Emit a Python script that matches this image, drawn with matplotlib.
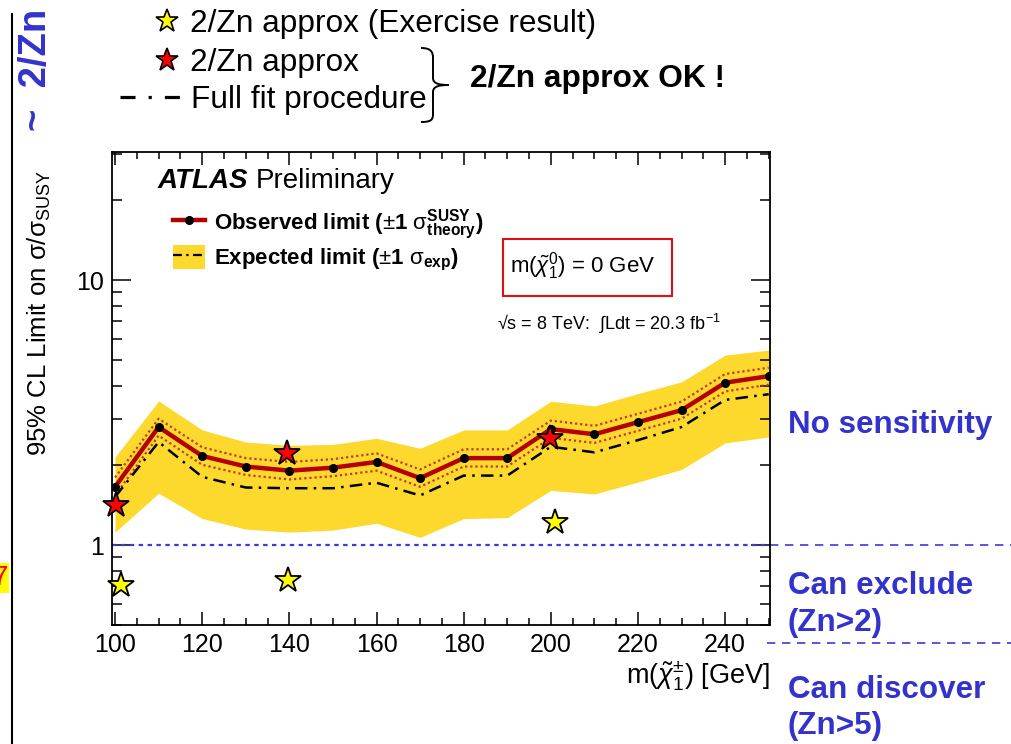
import numpy as np
import matplotlib
matplotlib.use('Agg')
import matplotlib.pyplot as plt
from matplotlib.lines import Line2D
from matplotlib.patches import Patch, Rectangle, PathPatch
from matplotlib.path import Path
from matplotlib.ticker import FixedLocator, NullFormatter, FixedFormatter
from matplotlib.font_manager import FontProperties

plt.rcParams['font.family'] = ['Liberation Sans', 'DejaVu Sans']
plt.rcParams['mathtext.fontset'] = 'custom'
plt.rcParams['mathtext.rm'] = 'Liberation Sans'
plt.rcParams['mathtext.it'] = 'Liberation Sans:italic'
plt.rcParams['mathtext.bf'] = 'Liberation Sans:bold'

# ---------------- data ----------------
mass = [100, 110, 120, 130, 140, 150, 160, 170, 180, 190, 200, 210, 220, 230, 240, 250]
observed = [1.66, 2.79, 2.17, 1.98, 1.91, 1.96, 2.06, 1.79, 2.13, 2.13, 2.74, 2.62, 2.91, 3.23, 4.10, 4.34]
theory_up = [1.80, 3.00, 2.34, 2.13, 2.06, 2.11, 2.22, 1.93, 2.30, 2.30, 2.95, 2.82, 3.13, 3.48, 4.42, 4.67]
theory_dn = [1.54, 2.59, 2.01, 1.84, 1.77, 1.82, 1.91, 1.66, 1.98, 1.98, 2.54, 2.43, 2.70, 3.00, 3.80, 4.03]
expected = [1.52, 2.45, 1.81, 1.65, 1.64, 1.64, 1.72, 1.54, 1.83, 1.83, 2.35, 2.24, 2.49, 2.79, 3.53, 3.71]
exp_up = [2.15, 3.50, 2.72, 2.45, 2.38, 2.40, 2.53, 2.32, 2.72, 2.72, 3.49, 3.35, 3.73, 4.13, 5.21, 5.44]
exp_dn = [1.12, 1.57, 1.26, 1.15, 1.12, 1.14, 1.21, 1.07, 1.26, 1.27, 1.61, 1.56, 1.73, 1.93, 2.43, 2.56]

exercise_mass = [101.3, 139.8, 201.0]
exercise_val = [0.706, 0.738, 1.225]
approx_mass = [100.2, 139.5, 199.8]
approx_val = [1.415, 2.22, 2.53]

limit_line = 1.0
discover_line = 0.427

x_major = [100, 120, 140, 160, 180, 200, 220, 240]
x_minor = list(range(100, 251, 5))
y_major = [1, 10]
y_major_labels = ['1', '10']
y_minor = [0.5, 0.6, 0.7, 0.8, 0.9, 2, 3, 4, 5, 6, 7, 8, 9, 20, 30]

# ---------------- colours ----------------
YELLOW = '#fdd92e'
RED = '#b40000'
DOT_RED = '#c03a28'
BLUE_TXT = '#3333cc'
BLUE_LINE = '#3b3bdc'

W, H = 1012, 744
fig = plt.figure(figsize=(W / 100, H / 100), dpi=100)


def fx(x):
    return x / W


def fy(y):
    return 1 - y / H


ax = fig.add_axes([fx(112), fy(625), fx(770) - fx(112), fy(152) - fy(625)])
ax.set_yscale('log')
ax.set_xlim(99.3, 250.3)
ax.set_ylim(0.5, 30.4)

ax.fill_between(mass, exp_dn, exp_up, color=YELLOW, lw=0, zorder=1)
ax.plot(mass, theory_up, color=DOT_RED, lw=1.6, ls=(0, (1, 1.3)), zorder=3)
ax.plot(mass, theory_dn, color=DOT_RED, lw=1.6, ls=(0, (1, 1.3)), zorder=3)
ax.plot(mass, expected, color='black', lw=1.8, ls=(0, (5, 2.5, 1, 2.5)), zorder=3)
ax.plot(mass, observed, color=RED, lw=3.2, zorder=4)
ax.plot(mass, observed, ls='none', marker='o', ms=5.5, mfc='black', mec='black', zorder=5)
ax.axhline(limit_line, color=BLUE_LINE, lw=1.6, ls=(0, (2, 2)), zorder=2)

ax.plot(exercise_mass, exercise_val, ls='none', marker='*', ms=19, mfc='#ffff00',
        mec='black', mew=1.3, zorder=6, clip_on=False)
ax.plot(approx_mass, approx_val, ls='none', marker='*', ms=19, mfc='#ff0000',
        mec='black', mew=1.3, zorder=6, clip_on=False)

# dashed separators to the right of the axes
trans = ax.get_yaxis_transform()
ax.plot([1.0, 1.37], [limit_line, limit_line], transform=trans, color=BLUE_LINE,
        lw=1.2, ls=(0, (5, 4)), clip_on=False)
ax.plot([0.995, 1.37], [discover_line, discover_line], transform=trans, color=BLUE_LINE,
        lw=1.2, ls=(0, (5, 4)), clip_on=False)

# ticks
ax.xaxis.set_major_locator(FixedLocator(x_major))
ax.xaxis.set_minor_locator(FixedLocator(x_minor))
ax.yaxis.set_major_locator(FixedLocator(y_major))
ax.yaxis.set_major_formatter(FixedFormatter(y_major_labels))
ax.yaxis.set_minor_locator(FixedLocator(y_minor))
ax.yaxis.set_minor_formatter(NullFormatter())
ax.tick_params(which='both', direction='in', top=True, right=True, width=1.1,
               labelsize=18, colors='black')
ax.tick_params(axis='x', which='major', length=9.5, pad=6)
ax.tick_params(axis='x', which='minor', length=5)
ax.tick_params(axis='y', which='major', length=14, pad=6)
ax.tick_params(axis='y', which='minor', length=7.5)
for s in ax.spines.values():
    s.set_linewidth(1.3)

ax.set_xlabel(r'm($\tilde{\chi}^{\pm}_{1}$) [GeV]', fontsize=19.5, loc='right', labelpad=1)
ax.set_ylabel(r'95% CL Limit on $\mathrm{\sigma}/\mathrm{\sigma}_{\rm SUSY}$', fontsize=18.5)
ax.yaxis.label.set_rotation_mode('default')
ax.yaxis.label.set_verticalalignment('center')
ax.yaxis.label.set_horizontalalignment('center')
ax.yaxis.set_label_coords((39 - 112) / 658, (625 - 313) / 473)

# ATLAS label and legend
ax.text((158 - 112) / 658, 1 - (188 - 152) / 473, 'ATLAS', transform=ax.transAxes,
        fontsize=20, fontweight='bold', fontstyle='italic', va='baseline', ha='left')
ax.text((256 - 112) / 658, 1 - (188 - 152) / 473, 'Preliminary', transform=ax.transAxes,
        fontsize=20, va='baseline', ha='left')

h_obs = Line2D([], [], color=RED, lw=3.2, marker='o', ms=5.5, mfc='black', mec='black')
h_exp = (Patch(facecolor=YELLOW, edgecolor='none'),
         Line2D([], [], color='black', lw=1.6, ls=(0, (4, 2, 1, 2))))
leg = ax.legend([h_obs, h_exp],
                [r'Observed limit ($\pm$1 $\mathrm{\sigma}^{\mathbf{SUSY}}_{\mathbf{theory}}$)',
                 r'Expected limit ($\pm$1 $\mathrm{\sigma}_{\mathbf{exp}}$)'],
                loc='upper left', bbox_to_anchor=((173 - 112) / 658, 1 - (208 - 152) / 473),
                frameon=False, prop=FontProperties(family='Liberation Sans', weight='bold', size=16),
                handlelength=1.45, handleheight=1.25, handletextpad=0.4, labelspacing=0.12,
                borderpad=0, borderaxespad=0)

# neutralino box
fig.add_artist(Rectangle((fx(503), fy(296)), fx(672) - fx(503), fy(239) - fy(296),
                         transform=fig.transFigure, fill=False, edgecolor='#e01010', lw=1.5))
fig.text(fx(510), fy(273), r'm($\tilde{\chi}^{0}_{1}$) = 0 GeV', fontsize=16, va='baseline', ha='left')
fig.text(fx(497), fy(330), '\u221as = 8 TeV:  $\\int$Ldt = 20.3 fb$^{-1}$', fontsize=13,
         va='baseline', ha='left')

# right-side annotations
for txt, yb in [('No sensitivity', 433), ('Can exclude', 594), ('(Zn>2)', 631),
                ('Can discover', 698), ('(Zn>5)', 734)]:
    fig.text(fx(788), fy(yb), txt, fontsize=22.6, fontweight='bold', color=BLUE_TXT,
             va='baseline', ha='left')

# header legend
fig.add_artist(Line2D([fx(166.7)], [fy(21)], ls='none', marker='*', ms=17, mfc='#ffff00',
                      mec='black', mew=1.2, transform=fig.transFigure))
fig.add_artist(Line2D([fx(166.7)], [fy(60)], ls='none', marker='*', ms=17, mfc='#ff0000',
                      mec='black', mew=1.2, transform=fig.transFigure))
fig.add_artist(Line2D([fx(120), fx(180)], [fy(97), fy(97)], color='black', lw=2.3,
                      ls=(0, (4.7, 4.1, 1, 4.1)), transform=fig.transFigure))
fig.text(fx(190), fy(32), '2/Zn approx (Exercise result)', fontsize=22.8, va='baseline', ha='left')
fig.text(fx(190), fy(71), '2/Zn approx', fontsize=22.8, va='baseline', ha='left')
fig.text(fx(191), fy(108), 'Full fit procedure', fontsize=22.8, va='baseline', ha='left')

# brace
verts = [(421, 48), (431, 48), (433, 52), (433, 58),
         (433, 78), (433, 84), (440, 85), (449, 85),
         (440, 85), (433, 86), (433, 92),
         (433, 114), (433, 120), (431, 122), (421, 122)]
codes = [Path.MOVETO, Path.CURVE4, Path.CURVE4, Path.CURVE4,
         Path.LINETO, Path.CURVE4, Path.CURVE4, Path.CURVE4,
         Path.CURVE4, Path.CURVE4, Path.CURVE4,
         Path.LINETO, Path.CURVE4, Path.CURVE4, Path.CURVE4]
verts_f = [(fx(a), fy(b)) for a, b in verts]
fig.add_artist(PathPatch(Path(verts_f, codes), transform=fig.transFigure, fill=False,
                         edgecolor='black', lw=1.4))
fig.text(fx(470), fy(87), '2/Zn approx OK !', fontsize=22.8, fontweight='bold', va='baseline', ha='left')

# left-hand decorations
fig.add_artist(Line2D([fx(12), fx(12)], [fy(14), fy(744)], color='black', lw=1.5,
                      transform=fig.transFigure))
fig.text(fx(36), fy(131), '~  2/Zn', fontsize=27.5, fontweight='bold', color=BLUE_TXT,
         rotation=90, ha='center', va='bottom')
fig.add_artist(Rectangle((0, fy(593)), fx(9), fy(563) - fy(593), transform=fig.transFigure,
                         facecolor='#ffff00', edgecolor='none'))
fig.text(fx(8), fy(578), '7', fontsize=20, color='#ff0000', ha='right', va='center')

fig.savefig('out.png', dpi=100)
